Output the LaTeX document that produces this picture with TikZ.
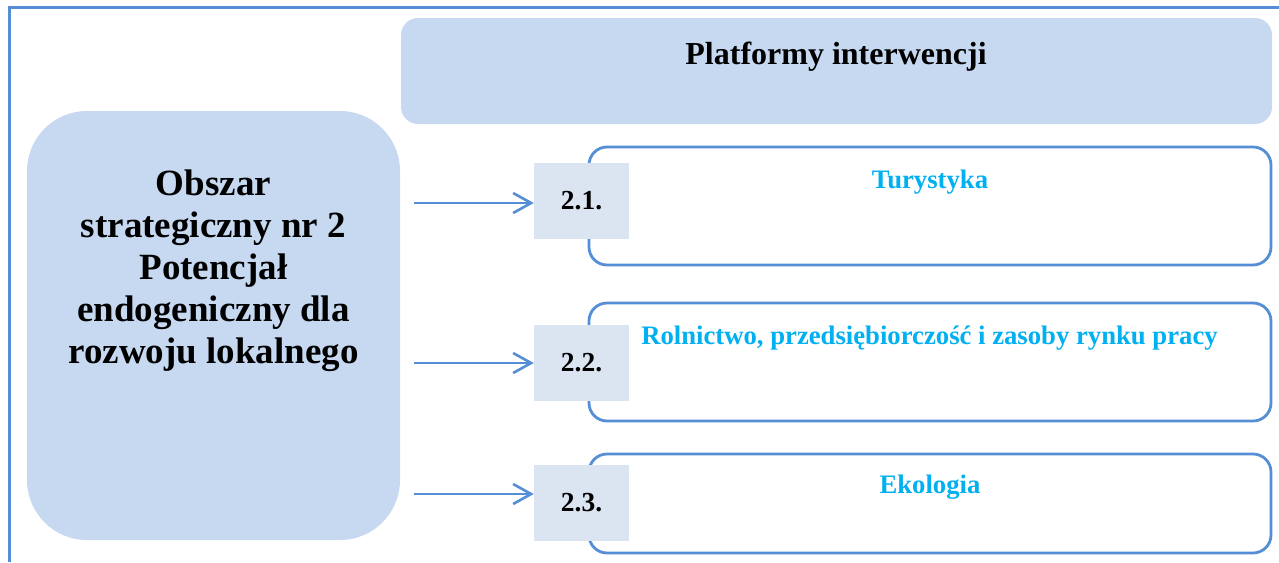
\documentclass[tikz,border=0pt]{standalone}
\usepackage{fontspec}
\setmainfont{Liberation Serif}
\usepackage{tikz}
\usetikzlibrary{arrows.meta, shapes, positioning}
\definecolor{areafill}{HTML}{C6D9F1}
\definecolor{numfill}{HTML}{DBE5F1}
\definecolor{edge}{HTML}{558ED5}
\definecolor{fieldtext}{HTML}{00B0F0}
\tikzstyle{area} = [fill=areafill, inner sep=0pt]
\tikzstyle{field} = [draw=edge, line width=2.8pt, fill=white, rounded corners=18pt, inner sep=0pt, minimum width=682pt]
\tikzstyle{number} = [fill=numfill, minimum width=95pt, minimum height=76pt, inner sep=0pt, font=\fontsize{27.5}{30}\selectfont\bfseries]
\tikzstyle{fieldname} = [text=fieldtext, anchor=base, inner sep=0pt, font=\fontsize{26.7}{30}\selectfont\bfseries]
\tikzstyle{link} = [draw=edge, line width=2.6pt, -{Straight Barb[length=18pt, width=20pt]}]

\begin{document}
\begin{tikzpicture}[x=1pt, y=-1pt]
					\useasboundingbox (0, 0) rectangle (1279, 562);
					\draw [edge, line width=2.2pt] (9.5, 562) -- (9.5, 7.5) -- (1279, 7.5);

					\node (Platforms) [area, rounded corners=17pt, minimum width=871pt, minimum height=106pt] at (836.5, 71) {};
					\node (PlatformsText) [anchor=base, inner sep=0pt, font=\fontsize{32}{38}\selectfont\bfseries] at (836, 64) {Platformy interwencji};

					\node (Area) [area, rounded corners=60pt, minimum width=373pt, minimum height=429pt] at (213.5, 325.5) {};
					\node (AreaText) [align=center, inner sep=0pt, font=\fontsize{37}{42}\selectfont\bfseries] at (213.5, 270.5) {Obszar\\strategiczny nr 2\\Potencjał\\endogeniczny dla\\rozwoju lokalnego};

					\node (Field1) [field, minimum height=118pt] at (930, 206) {};
					\node (Field2) [field, minimum height=118pt] at (930, 362) {};
					\node (Field3) [field, minimum height=99pt] at (930, 503.5) {};

					\node (Num1) [number] at (581.5, 201) {2.1.};
					\node (Num2) [number] at (581.5, 363) {2.2.};
					\node (Num3) [number] at (581.5, 503) {2.3.};

					\node (Name1) [fieldname] at (930, 188) {Turystyka};
					\node (Name2) [fieldname] at (929.5, 344) {Rolnictwo, przedsiębiorczość i zasoby rynku pracy};
					\node (Name3) [fieldname] at (930, 493) {Ekologia};

					\coordinate (Start1) at (414, 203);
					\coordinate (Start2) at (414, 363);
					\coordinate (Start3) at (414, 494);

					\draw [link] (Start1) -- (Start1 -| Num1.west);
					\draw [link] (Start2) -- (Start2 -| Num2.west);
					\draw [link] (Start3) -- (Start3 -| Num3.west);

				\end{tikzpicture}
\end{document}
